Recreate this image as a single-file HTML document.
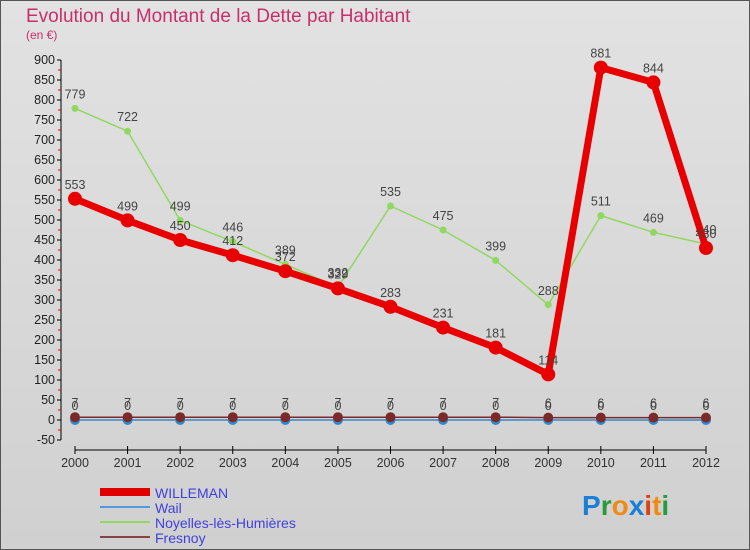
<!DOCTYPE html>
<html><head><meta charset="utf-8"><style>
body{margin:0;width:750px;height:550px;overflow:hidden;font-family:"Liberation Sans","DejaVu Sans",sans-serif}
#c{position:absolute;left:0;top:0;width:748px;height:548px;border:1px solid #555;background:linear-gradient(#e2e2e2,#d0d0d0)}
</style></head><body>
<div id="c"></div>
<svg id="s" width="750" height="550" style="position:absolute;left:0;top:0" font-family="Liberation Sans, DejaVu Sans, sans-serif">
<text x="26" y="22" font-size="19" fill="#c8306a">Evolution du Montant de la Dette par Habitant</text>
<text x="26" y="39" font-size="12" fill="#c8306a">(en €)</text>
<g id="axes"></g><g id="series"></g>
<g>
<rect x="100" y="488" width="50" height="8" fill="#e00000"/>
<text x="155" y="498" font-size="14" fill="#4040e0">WILLEMAN</text>
<rect x="100" y="506" width="50" height="2" fill="#5599dd"/>
<text x="155" y="513" font-size="14" fill="#4040e0">Wail</text>
<rect x="100" y="521" width="50" height="2" fill="#90d860"/>
<text x="155" y="528" font-size="14" fill="#4040e0">Noyelles-lès-Humières</text>
<rect x="100" y="536" width="50" height="2" fill="#884444"/>
<text x="155" y="543" font-size="14" fill="#4040e0">Fresnoy</text>
</g>
<text x="582" y="515" font-size="28" font-weight="bold"><tspan fill="#1a7fd6">P</tspan><tspan fill="#2a9a3a">r</tspan><tspan fill="#f08a10">o</tspan><tspan fill="#1a7fd6">x</tspan><tspan fill="#e04010">i</tspan><tspan fill="#f08a10">t</tspan><tspan fill="#2a9a3a">i</tspan></text>
</svg>
<script>
const years=[2000,2001,2002,2003,2004,2005,2006,2007,2008,2009,2010,2011,2012];
const willeman=[553,499,450,412,372,329,283,231,181,114,881,844,430];
const wail=[0,0,0,0,0,0,0,0,0,0,0,0,0];
const noyelles=[779,722,499,446,389,332,535,475,399,288,511,469,440];
const fresnoy=[7,7,7,7,7,7,7,7,7,6,6,6,6];
const yTicks=[-50,0,50,100,150,200,250,300,350,400,450,500,550,600,650,700,750,800,850,900];
const NS='http://www.w3.org/2000/svg';
const x=i=>75+i*(706-75)/(years.length-1);
const y=v=>420-v*0.4;
function el(t,a,p){const e=document.createElementNS(NS,t);for(const k in a)e.setAttribute(k,a[k]);p.appendChild(e);return e;}
const ax=document.getElementById('axes'),sr=document.getElementById('series');
let l=el('line',{x1:61,y1:y(-50),x2:61,y2:y(900),stroke:'#000'},ax);


l=el('line',{x1:75,y1:450,x2:706,y2:450,stroke:'#000'},ax);


yTicks.forEach((v,k)=>{
 el('line',{x1:57,x2:61,y1:y(v),y2:y(v),stroke:'#000'},ax);
 if(k<yTicks.length-1) el('line',{x1:58,x2:61,y1:y(v+25),y2:y(v+25),stroke:'#e00'},ax);
 const t=el('text',{x:55,y:y(v)+4,'font-size':12.5,'text-anchor':'end',fill:'#222'},ax);
 t.textContent=v;
 
 
});
years.forEach((yr,i)=>{
 el('line',{x1:x(i),x2:x(i),y1:446,y2:454,stroke:'#000'},ax);
 const t=el('text',{x:x(i),y:467,'font-size':12.5,'text-anchor':'middle',fill:'#333'},ax);
 t.textContent=yr;
 
 
});
function series(d,color,w,r,name){
 const g=el('g',{},sr);
 
 
 const p=el('polyline',{points:d.map((v,i)=>x(i)+','+y(v)).join(' '),fill:'none',stroke:color,'stroke-width':w,'stroke-linejoin':'round'},g);
 
 
 d.forEach((v,i)=>{
  const c=el('circle',{cx:x(i),cy:y(v),r:r,fill:color},g);
  
  
  const t=el('text',{x:x(i),y:y(v)-10,'font-size':12.5,'text-anchor':'middle',fill:'#444'},g);
  t.textContent=v;
  
  
 });
}
series(wail,'#3388cc',1.5,5,'wail');
series(fresnoy,'#7a2a2a',1.5,5,'fresnoy');
series(noyelles,'#90d860',1.5,3.5,'noyelles');
series(willeman,'#e80000',7,7,'willeman');
</script>
</body></html>
